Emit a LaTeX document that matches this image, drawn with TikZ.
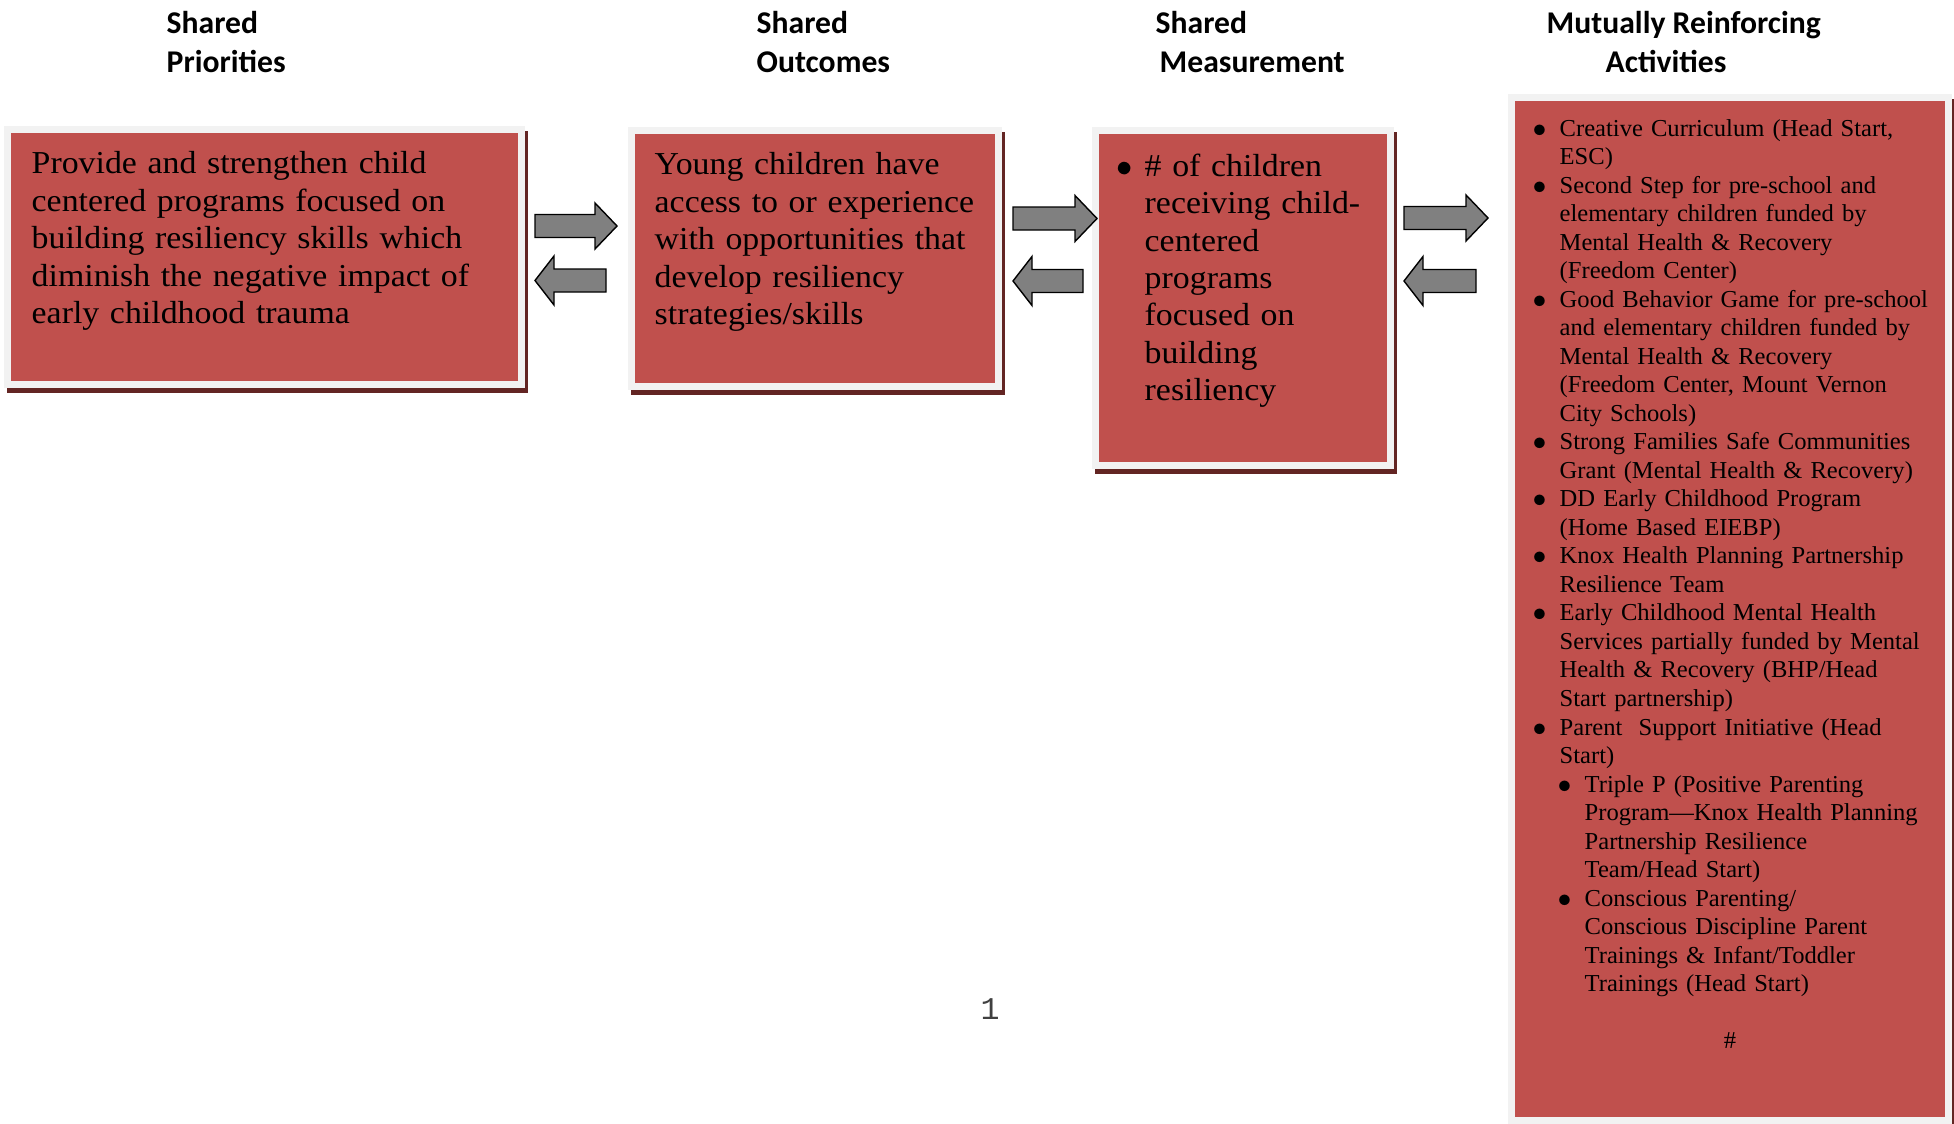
\documentclass[tikz,border=0pt]{standalone}
\usepackage{fontspec}
\setmainfont{Liberation Serif}[FakeStretch=1.06]
\newfontfamily\actfont{Liberation Serif}[FakeStretch=1.01, Ligatures=TeX]
\newfontfamily\headfont{Carlito}
\newfontfamily\pagefont{Liberation Mono}
\definecolor{boxred}{HTML}{C0504D}
\definecolor{framegray}{HTML}{F2F2F2}
\definecolor{shadowred}{HTML}{632523}
\definecolor{arrowgray}{HTML}{808080}
\definecolor{pagegray}{HTML}{404040}
\newcommand\bul[1]{\leavevmode\llap{$\bullet$\hspace{#1}}}
\newcommand\actitem{\par\bul{0.13cm}}
\newcommand\actsubitem{\par\leftskip=0.25cm\bul{0.13cm}}
\tikzset{
  framebox/.style={fill=boxred, draw=framegray, line width=0.07cm},
  blockarrow/.style={fill=arrowgray, draw=black, line width=0.014cm, line join=miter},
  headtext/.style={font=\headfont\bfseries\fontsize{9}{11}\selectfont, anchor=base west, inner sep=0pt},
  bigtext/.style={font=\fontsize{9.08}{10.64}\selectfont, align=left, anchor=north west, inner sep=0pt},
  smalltext/.style={font=\actfont\fontsize{6.92}{8.11}\selectfont, text width=4.2cm, align=left, anchor=north west, inner sep=0pt},
}
\begin{document}
\begin{tikzpicture}[x=0.01cm,y=-0.01cm]
   \useasboundingbox (0,0) rectangle (1954,1124);

   % red boxes with frame and shadow
   \foreach \xa/\ya/\xb/\yb in {11/133/518/381, 635/134/995/383, 1099/134/1387/462, 1515/101/1945/1117} {
     \fill[shadowred] (\xa-4,\ya-2) rectangle (\xb+10,\yb+12);
     \draw[framebox] (\xa-3.5,\ya-3.5) rectangle (\xb+3.5,\yb+3.5);
   }

   % headings
   \foreach \x/\y/\t [count=\i] in {166/33/Shared, 166/72/Priorities,
       756/33/Shared, 756/72/Outcomes, 1155/33/Shared, 1159/72/Measurement,
       1546/33/Mutually Reinforcing, 1605/72/Activities} {
     \node[headtext] (head\i) at (\x,\y) {\t};
   }

   % arrows between the boxes
   \foreach \a/\b/\c in {535/617/226, 1013/1097/218.5, 1404/1488/218} {
     \draw[blockarrow] (\a,\c-11.5) -- (\b-22,\c-11.5) -- (\b-22,\c-23) -- (\b,\c)
       -- (\b-22,\c+23) -- (\b-22,\c+11.5) -- (\a,\c+11.5) -- cycle;
   }
   \foreach \a/\b/\c in {535/606/280.5, 1013/1083/281, 1404/1476/281} {
     \draw[blockarrow] (\b,\c-11.5) -- (\a+19,\c-11.5) -- (\a+19,\c-24.5) -- (\a,\c)
       -- (\a+19,\c+24.5) -- (\a+19,\c+11.5) -- (\b,\c+11.5) -- cycle;
   }

   \node[bigtext, text width=4.8cm] (prio) at (31,151) {Provide and strengthen child\\
     centered programs focused on\\ building resiliency skills which\\
     diminish the negative impact of\\ early childhood trauma};
   \node[bigtext, text width=3.3cm] (outc) at (654,152) {Young children have\\
     access to or experience\\ with opportunities that\\ develop resiliency\\
     strategies/skills};
   \node[bigtext, text width=2.3cm] (meas) at (1144,153) {\bul{0.12cm}\# of children\\
     receiving child-\\ centered\\ programs\\ focused on\\ building\\ resiliency};

   \node[smalltext] (acts) at (1559,118.5) {\parindent=0pt
     \bul{0.13cm}Creative Curriculum (Head Start,\\ ESC)
     \actitem Second Step for pre-school and\\ elementary children funded by\\
       Mental Health \& Recovery\\ (Freedom Center)
     \actitem Good Behavior Game for pre-school\\ and elementary children funded by\\
       Mental Health \& Recovery\\ (Freedom Center, Mount Vernon\\ City Schools)
     \actitem Strong Families Safe Communities\\ Grant (Mental Health \& Recovery)
     \actitem DD Early Childhood Program\\ (Home Based EIEBP)
     \actitem Knox Health Planning Partnership\\ Resilience Team
     \actitem Early Childhood Mental Health\\ Services partially funded by Mental\\
       Health \& Recovery (BHP/Head\\ Start partnership)
     \actitem Parent\ \ Support Initiative (Head\\ Start)
     \actsubitem Triple P (Positive Parenting\\ Program—Knox Health Planning\\
       Partnership Resilience\\ Team/Head Start)
     \actsubitem Conscious Parenting/\\ Conscious Discipline Parent\\
       Trainings \& Infant/Toddler\\ Trainings (Head Start)\par};
   \node[font=\actfont\fontsize{6.92}{8.11}\selectfont, inner sep=0pt] (hash) at (1730,1041) {\#};

   \node[font=\pagefont\fontsize{9}{11}\selectfont, text=pagegray, inner sep=0pt] (pagenum) at (990,1009) {1};
\end{tikzpicture}
\end{document}
